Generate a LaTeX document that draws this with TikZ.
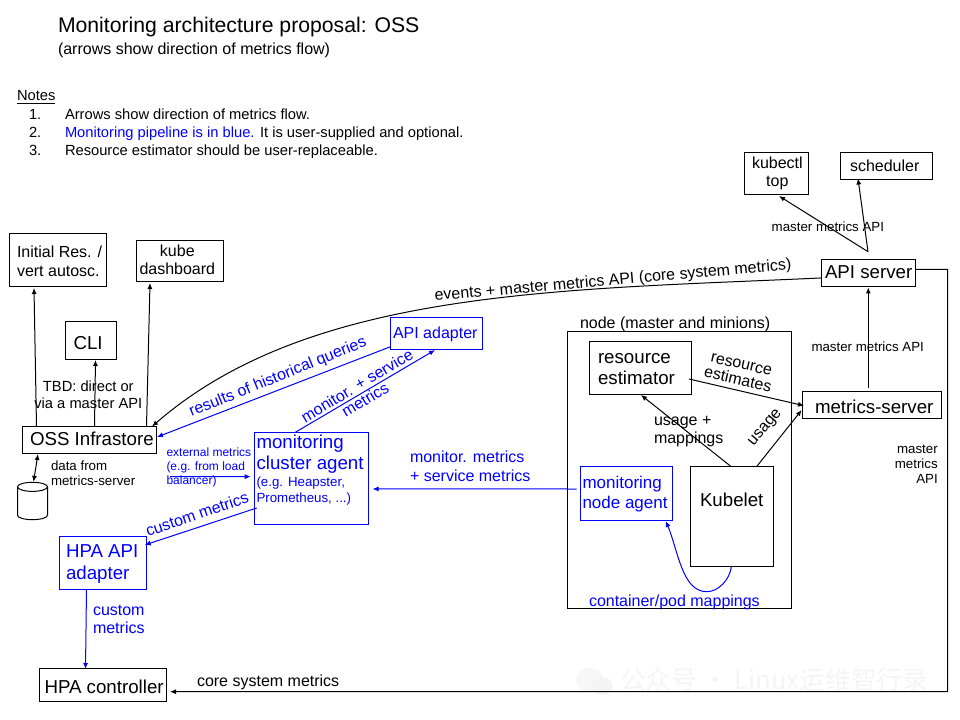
\documentclass[tikz,border=0pt]{standalone}
\usepackage{fontspec}
\setmainfont{Liberation Sans}
\newfontfamily\cjk{Noto Sans CJK SC}
\usetikzlibrary{arrows.meta,calc}
\definecolor{mblue}{RGB}{0,0,255}
\newcommand\fs[1]{\pgfmathsetmacro\fsa{#1*0.75}\pgfmathsetmacro\fsb{#1*0.8625}\fontsize{\fsa pt}{\fsb pt}\selectfont}
% \bx[opts]{name}{x0}{y0}{x1}{y1}{text x}{first baseline y}{size + rows}
\newcommand\bx[9][]{%
  \pgfmathsetmacro\bxw{(#5-#3)*0.75}\pgfmathsetmacro\bxh{(#6-#4)*0.75}%
  \pgfmathsetmacro\bxp{(#7-#3)*0.75}\pgfmathsetmacro\bxb{(#6-#8)*0.75}%
  \node[boxn,#1] (#2) at ({(#3+#5)/2},{(#4+#6)/2}) {\raisebox{\bxb pt}[\bxh pt][0pt]{\makebox[\bxw pt][l]{\hspace*{\bxp pt}#9}}};}
\newcommand\rows[2]{\fs{#1}\begin{tabular}[t]{@{}l@{}}#2\end{tabular}}
\newcommand\crows[2]{\fs{#1}\begin{tabular}[t]{@{}c@{}}#2\end{tabular}}
\newcommand\tx[6][]{\node[txtn,#1] (#2) at (#3,#4) {\rows{#5}{#6}};}
\tikzset{
  boxn/.style={draw=black,line width=0.75pt,inner sep=0pt,outer sep=0pt,anchor=center},
  bluebox/.style={draw=mblue,text=mblue},
  txtn/.style={anchor=base west,inner sep=0pt,outer sep=0pt},
  btxt/.style={text=mblue},
  rtxt/.style={anchor=center,inner sep=0pt,align=center},
  conn/.style={draw=black,line width=0.75pt},
  arr/.style={conn,-{Latex[length=4.5pt,width=3.8pt]}},
  barr/.style={arr,draw=mblue},
}
\begin{document}
\begin{tikzpicture}[x=0.75pt,y=-0.75pt]
\useasboundingbox[fill=white] (0,0) rectangle (960,720);
% faint watermark
\fill[gray!6] (590,680) ellipse [x radius=10.5pt,y radius=9pt];
\fill[gray!9] (602,686) ellipse [x radius=8pt,y radius=6.5pt];
\node[txtn,text=gray!8] (wm) at (620,689) {\cjk\fontsize{19.3pt}{21pt}\selectfont 公众号 · Linux运维智行录};
% headings and notes
\tx{title}{58}{33}{21.2}{Monitoring architecture proposal: OSS}
\tx{subtitle}{58}{54.5}{16}{(arrows show direction of metrics flow)}
\tx{notes}{17}{101}{14.7}{\underline{Notes}}
\tx{n1}{29}{119.5}{14.7}{1.}
\tx{n2}{29}{137.5}{14.7}{2.}
\tx{n3}{29}{155.5}{14.7}{3.}
\tx{t1}{65}{119.5}{14.7}{Arrows show direction of metrics flow.}
\node[txtn] (t2) at (65,137.5) {\fs{14.7}\textcolor{mblue}{Monitoring pipeline is in blue.} It is user-supplied and optional.};
\tx{t3}{65}{155.5}{14.7}{Resource estimator should be user-replaceable.}
% boxes
\bx{init}{9}{233.5}{106}{287}{17}{258}{\rows{16}{Initial Res. /\\vert autosc.}}
\bx{dash}{136.5}{240.5}{223}{282}{139.5}{256}{\crows{16}{kube\\dashboard}}
\bx{cli}{65.5}{321}{116.5}{359}{73.5}{349}{\rows{18.7}{CLI}}
\bx{oss}{22.5}{426.5}{156}{453}{30}{445.5}{\rows{18.7}{OSS Infrastore}}
\bx[bluebox]{adapter}{390.5}{317.5}{482.5}{349}{393}{338.2}{\rows{16}{API adapter}}
\bx[bluebox]{cluster}{254.5}{432.5}{368.5}{524}{256.5}{448}{\rows{18.7}{monitoring\\cluster agent\\[-3.4pt]\fs{13.3}(e.g. Heapster,\\[-4.1pt]\fs{13.3}Prometheus, ...)}}
\bx[bluebox]{hpaapi}{59.5}{536.5}{146.5}{589}{66}{557.5}{\rows{18.7}{HPA API\\adapter}}
\bx{hpa}{39.5}{668.5}{166.5}{701.5}{44.5}{693}{\rows{18.7}{HPA controller}}
\bx{nodebox}{567.5}{331.5}{791.5}{608}{580}{329}{}
\bx{resest}{589.5}{341.5}{691.5}{394}{598}{363.2}{\rows{18.7}{resource\\estimator}}
\bx{ms}{802.5}{391.5}{941.5}{418}{815}{413.5}{\rows{18.7}{metrics-server}}
\bx[bluebox]{nodeag}{580.5}{466.5}{672.5}{520}{582.5}{488.5}{\rows{17}{monitoring\\node agent}}
\bx{kubelet}{690.5}{466.5}{773.5}{566}{700}{506.7}{\rows{18.7}{Kubelet}}
\bx{kubectl}{744.5}{152.5}{808.5}{195}{752}{168.5}{\crows{16}{kubectl\\top}}
\bx{sched}{840.5}{152.5}{932.5}{179.5}{850}{171.5}{\rows{16}{scheduler}}
\bx{api}{821.5}{259.5}{915}{287}{825}{279}{\rows{18.7}{API server}}
% database cylinder
\node[inner sep=0pt,outer sep=0pt,minimum width=22.5pt,minimum height=28pt] (db) at (32.5,501) {};
\draw[conn] ($(db.north)+(0,4.5)$) ellipse [x radius=11.25pt,y radius=3.4pt];
\draw[conn] ($(db.north west)+(0,4.5)$) -- ($(db.south west)+(0,-4.5)$) arc [start angle=180,end angle=360,x radius=11.25pt,y radius=3.4pt] -- ($(db.north east)+(0,4.5)$);
% connectors
\coordinate (apifork) at (868,251.7);
\coordinate (msgap) at (868.3,388);
\coordinate (extstart) at (170,476.7);
\draw[arr] ($(oss.north west)+(14,0)$) -- ($(init.south west)+(25,1)$);
\draw[arr] ($(oss.north west)+(72,0)$) -- ($(cli.south west)+(30,1)$);
\draw[arr] ($(oss.north west)+(124,0)$) -- ($(dash.south west)+(13.5,1)$);
\draw[conn,{Latex[length=4.5pt,width=3.8pt]}-{Latex[length=4.5pt,width=3.8pt]}] ($(oss.south west)+(15.5,1)$) -- ($(db.north)+(1,-0.5)$);
\draw[arr] ($(api.west)+(0,4.7)$) .. controls (560,290) and (310,289) .. ($(oss.north east)+(-4,0)$);
\draw[barr] ($(adapter.south west)+(0,-2.3)$) -- ($(oss.east)+(1,-2.7)$);
\draw[barr] ($(cluster.north west)+(40.5,0)$) -- ($(adapter.south west)+(44.5,1)$);
\draw[barr] ($(nodeag.south west)+(-4,-31)$) -- ($(cluster.east)+(4,10.7)$);
\draw[barr] (extstart) -- ($(cluster.west)+(-3.8,-1.6)$);
\draw[barr] ($(cluster.south west)+(2.2,-16)$) -- ($(hpaapi.north east)+(-1.8,8.5)$);
\draw[barr] ($(hpaapi.south west)+(27,0)$) -- ($(hpa.north west)+(46,0.5)$);
\draw[arr] ($(kubelet.north west)+(40.5,0)$) -- ($(resest.south west)+(51.5,1)$);
\draw[arr] ($(kubelet.north west)+(66.2,0)$) -- ($(ms.south west)+(-0.8,-8)$);
\draw[arr] ($(resest.south east)+(-2.5,-15)$) -- ($(ms.north west)+(1.5,14.2)$);
\draw[arr] (msgap) -- ($(api.south west)+(46.8,0.5)$);
\draw[arr] (apifork) -- ($(kubectl.south west)+(34.5,1)$);
\draw[arr] (apifork) -- ($(sched.south west)+(17.5,-1)$);
\draw[arr] ($(api.east)+(0,-4)$) -- (947.5,269.3) -- (947.5,691.7) -- ($(hpa.east)+(3.5,6.7)$);
\draw[barr] ($(kubelet.south west)+(41,0)$) .. controls (730,580) and (718,591.7) .. (706.7,591.7) .. controls (682,591.7) and (678,550) .. ($(nodeag.south east)+(-6.8,1)$);
% labels
\tx{lnode}{580}{329}{16}{node (master and minions)}
\node[txtn,anchor=base] (ltbd) at (88.3,391.7) {\crows{14.7}{TBD: direct or\\via a master API}};
\tx{ldata}{51}{470}{13.3}{data from\\metrics-server}
\tx[btxt]{lext}{166.5}{456.7}{12}{external metrics\\(e.g. from load\\balancer)}
\tx[btxt]{lmon}{410}{462.8}{16}{monitor. metrics\\+ service metrics}
\tx[btxt]{lcont}{589}{606.7}{16}{container/pod mappings}
\tx{lusage}{654}{425}{16}{usage +\\mappings}
\tx{lmma}{811.5}{351.7}{13.3}{master metrics API}
\tx{lmmb}{771.7}{231.7}{13.3}{master metrics API}
\node[txtn,anchor=base east] (lmmc) at (937.7,453.3) {\fs{13.3}\begin{tabular}[t]{@{}r@{}}master\\metrics\\API\end{tabular}};
\tx[btxt]{lcm}{93}{615}{16}{custom\\metrics}
\tx{lcore}{197}{686}{16}{core system metrics}
\node[rtxt,text=mblue,rotate=22] (lres) at (278,377.5) {\fs{16}results of historical queries};
\node[rtxt,text=mblue,rotate=31] (lms) at (361,392.5) {\fs{16}monitor. + service\\\fs{16}metrics};
\node[rtxt,text=mblue,rotate=19] (lcus) at (197,514) {\fs{16}custom metrics};
\node[rtxt,rotate=5] (lev) at (613,281) {\fs{16}events + master metrics API (core system metrics)};
\node[rtxt,rotate=-13] (lest) at (739.5,372.5) {\fs{16}resource\\\fs{16}estimates};
\node[rtxt,rotate=50] (lusg) at (765.7,428.3) {\fs{16}usage};
\end{tikzpicture}
\end{document}
